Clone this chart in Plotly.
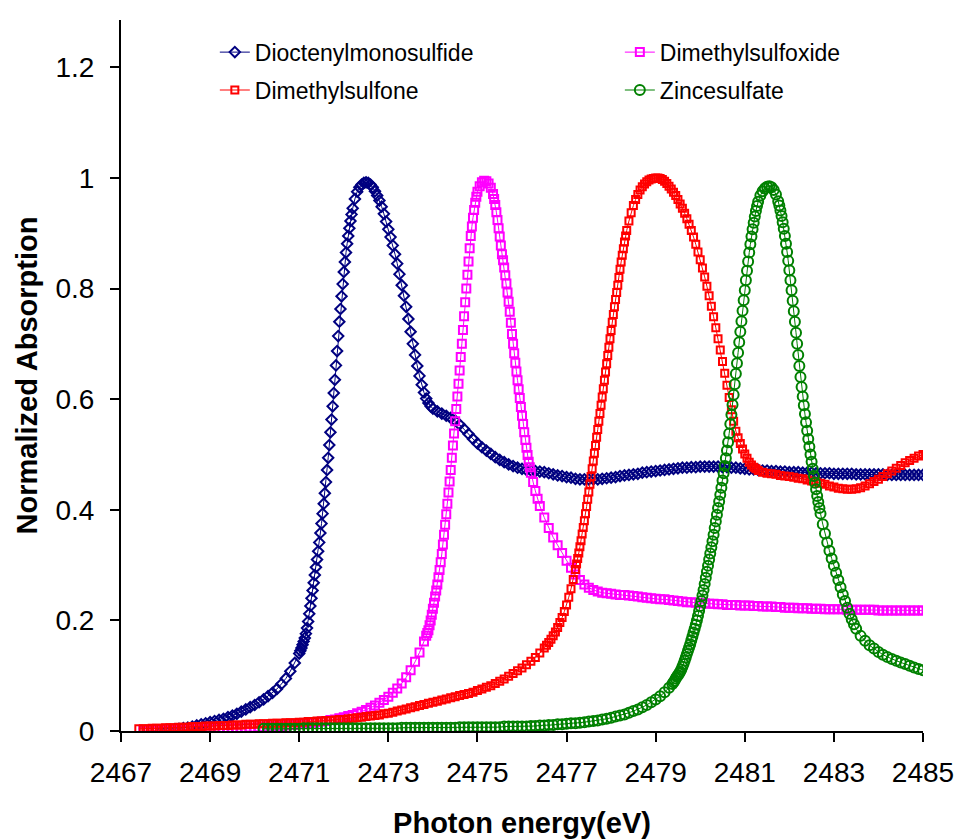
import plotly.graph_objects as go

# Sulfur K-edge XANES spectra: (photon energy in eV, normalized absorption)
DIOCTENYLMONOSULFIDE = [
    (2467.9, 0.000), (2468.0, 0.001), (2468.1, 0.002), (2468.2, 0.003), (2468.3, 0.004),
    (2468.4, 0.005), (2468.5, 0.006), (2468.6, 0.008), (2468.7, 0.010), (2468.8, 0.012),
    (2468.9, 0.014), (2469.0, 0.016), (2469.1, 0.018), (2469.2, 0.020), (2469.3, 0.022),
    (2469.4, 0.025), (2469.5, 0.028), (2469.6, 0.031), (2469.7, 0.035), (2469.8, 0.039),
    (2469.9, 0.043), (2470.0, 0.047), (2470.1, 0.052), (2470.2, 0.057), (2470.3, 0.063),
    (2470.4, 0.069), (2470.5, 0.076), (2470.6, 0.085), (2470.7, 0.095), (2470.8, 0.108),
    (2470.9, 0.123),
    (2471.000, 0.140), (2471.025, 0.145), (2471.050, 0.150), (2471.075, 0.156),
    (2471.100, 0.162), (2471.125, 0.168), (2471.150, 0.176), (2471.175, 0.186),
    (2471.200, 0.198), (2471.225, 0.212), (2471.250, 0.226), (2471.275, 0.240),
    (2471.300, 0.254), (2471.325, 0.268), (2471.350, 0.282), (2471.375, 0.296),
    (2471.400, 0.310), (2471.425, 0.325), (2471.450, 0.341), (2471.475, 0.358),
    (2471.500, 0.375), (2471.525, 0.393), (2471.550, 0.411), (2471.575, 0.430),
    (2471.600, 0.450), (2471.625, 0.472), (2471.650, 0.494), (2471.675, 0.517),
    (2471.700, 0.540), (2471.725, 0.563), (2471.750, 0.587), (2471.775, 0.611),
    (2471.800, 0.635), (2471.825, 0.661), (2471.850, 0.687), (2471.875, 0.714),
    (2471.900, 0.740), (2471.925, 0.763), (2471.950, 0.786), (2471.975, 0.808),
    (2472.000, 0.830), (2472.025, 0.848), (2472.050, 0.865), (2472.075, 0.881),
    (2472.100, 0.895), (2472.125, 0.909), (2472.150, 0.922), (2472.175, 0.934),
    (2472.200, 0.945),
    (2472.25, 0.962), (2472.30, 0.975), (2472.35, 0.983), (2472.40, 0.988), (2472.45, 0.991),
    (2472.50, 0.992), (2472.55, 0.991), (2472.60, 0.988), (2472.65, 0.983), (2472.70, 0.976),
    (2472.75, 0.968), (2472.80, 0.959), (2472.85, 0.948), (2472.90, 0.935), (2472.95, 0.921),
    (2473.00, 0.907), (2473.05, 0.893), (2473.10, 0.878), (2473.15, 0.862), (2473.20, 0.845),
    (2473.25, 0.826), (2473.30, 0.806), (2473.35, 0.787), (2473.40, 0.767), (2473.45, 0.745),
    (2473.50, 0.722), (2473.55, 0.700), (2473.60, 0.680), (2473.65, 0.660), (2473.70, 0.642),
    (2473.75, 0.626), (2473.80, 0.612), (2473.85, 0.601), (2473.90, 0.593), (2473.95, 0.587),
    (2474.00, 0.583),
    (2474.1, 0.578), (2474.2, 0.574), (2474.3, 0.570), (2474.4, 0.566), (2474.5, 0.561),
    (2474.6, 0.554), (2474.7, 0.546), (2474.8, 0.537), (2474.9, 0.528), (2475.0, 0.520),
    (2475.1, 0.513), (2475.2, 0.507), (2475.3, 0.501), (2475.4, 0.495), (2475.5, 0.490),
    (2475.6, 0.486), (2475.7, 0.482), (2475.8, 0.479), (2475.9, 0.476), (2476.0, 0.474),
    (2476.1, 0.472), (2476.2, 0.471), (2476.3, 0.470), (2476.4, 0.469), (2476.5, 0.468),
    (2476.6, 0.466), (2476.7, 0.464), (2476.8, 0.462), (2476.9, 0.461), (2477.0, 0.459),
    (2477.1, 0.458), (2477.2, 0.456), (2477.3, 0.455), (2477.4, 0.455), (2477.5, 0.455),
    (2477.6, 0.455), (2477.7, 0.455), (2477.8, 0.456), (2477.9, 0.457), (2478.0, 0.458),
    (2478.1, 0.459), (2478.2, 0.461), (2478.3, 0.462), (2478.4, 0.463), (2478.5, 0.464),
    (2478.6, 0.465), (2478.7, 0.467), (2478.8, 0.468), (2478.9, 0.469), (2479.0, 0.470),
    (2479.1, 0.471), (2479.2, 0.472), (2479.3, 0.473), (2479.4, 0.474), (2479.5, 0.475),
    (2479.6, 0.476), (2479.7, 0.476), (2479.8, 0.477), (2479.9, 0.477), (2480.0, 0.478),
    (2480.1, 0.478), (2480.2, 0.478), (2480.3, 0.478), (2480.4, 0.478), (2480.5, 0.477),
    (2480.6, 0.477), (2480.7, 0.476), (2480.8, 0.476), (2480.9, 0.475), (2481.0, 0.474),
    (2481.1, 0.473), (2481.2, 0.473), (2481.3, 0.472), (2481.4, 0.471), (2481.5, 0.471),
    (2481.6, 0.470), (2481.7, 0.470), (2481.8, 0.469), (2481.9, 0.469), (2482.0, 0.468),
    (2482.1, 0.468), (2482.2, 0.468), (2482.3, 0.467), (2482.4, 0.467), (2482.5, 0.467),
    (2482.6, 0.466), (2482.7, 0.466), (2482.8, 0.466), (2482.9, 0.466), (2483.0, 0.465),
    (2483.1, 0.465), (2483.2, 0.465), (2483.3, 0.465), (2483.4, 0.465), (2483.5, 0.464),
    (2483.6, 0.464), (2483.7, 0.464), (2483.8, 0.464), (2483.9, 0.464), (2484.0, 0.464),
    (2484.1, 0.464), (2484.2, 0.463), (2484.3, 0.463), (2484.4, 0.463), (2484.5, 0.463),
    (2484.6, 0.463), (2484.7, 0.463), (2484.8, 0.463), (2484.9, 0.463), (2485.0, 0.463),
]

DIMETHYLSULFOXIDE = [
    (2467.5, 0.000), (2467.6, 0.000), (2467.7, 0.001), (2467.8, 0.001), (2467.9, 0.001),
    (2468.0, 0.001), (2468.1, 0.002), (2468.2, 0.002), (2468.3, 0.002), (2468.4, 0.002),
    (2468.5, 0.002), (2468.6, 0.003), (2468.7, 0.003), (2468.8, 0.003), (2468.9, 0.003),
    (2469.0, 0.003), (2469.1, 0.004), (2469.2, 0.004), (2469.3, 0.004), (2469.4, 0.004),
    (2469.5, 0.005), (2469.6, 0.005), (2469.7, 0.005), (2469.8, 0.006), (2469.9, 0.006),
    (2470.0, 0.006), (2470.1, 0.007), (2470.2, 0.007), (2470.3, 0.008), (2470.4, 0.008),
    (2470.5, 0.009), (2470.6, 0.009), (2470.7, 0.010), (2470.8, 0.011), (2470.9, 0.011),
    (2471.0, 0.012), (2471.1, 0.013), (2471.2, 0.014), (2471.3, 0.015), (2471.4, 0.016),
    (2471.5, 0.017), (2471.6, 0.018), (2471.7, 0.020), (2471.8, 0.021), (2471.9, 0.023),
    (2472.0, 0.025), (2472.1, 0.027), (2472.2, 0.029), (2472.3, 0.032), (2472.4, 0.035),
    (2472.5, 0.038), (2472.6, 0.042), (2472.7, 0.046), (2472.8, 0.051), (2472.9, 0.056),
    (2473.0, 0.062), (2473.1, 0.069), (2473.2, 0.077), (2473.3, 0.086), (2473.4, 0.097),
    (2473.5, 0.110), (2473.6, 0.125), (2473.7, 0.142), (2473.8, 0.162),
    (2473.850, 0.172), (2473.875, 0.177), (2473.900, 0.182), (2473.925, 0.191),
    (2473.950, 0.200), (2473.975, 0.210), (2474.000, 0.221), (2474.025, 0.232),
    (2474.050, 0.243), (2474.075, 0.254), (2474.100, 0.265), (2474.125, 0.278),
    (2474.150, 0.291), (2474.175, 0.305), (2474.200, 0.320), (2474.225, 0.337),
    (2474.250, 0.355), (2474.275, 0.373), (2474.300, 0.392), (2474.325, 0.411),
    (2474.350, 0.431), (2474.375, 0.451), (2474.400, 0.472), (2474.425, 0.494),
    (2474.450, 0.516), (2474.475, 0.538), (2474.500, 0.560), (2474.525, 0.582),
    (2474.550, 0.605), (2474.575, 0.628), (2474.600, 0.652), (2474.625, 0.676),
    (2474.650, 0.700), (2474.675, 0.725), (2474.700, 0.750), (2474.725, 0.775),
    (2474.750, 0.800), (2474.775, 0.825), (2474.800, 0.849), (2474.825, 0.873),
    (2474.850, 0.895), (2474.875, 0.912), (2474.900, 0.928), (2474.925, 0.942),
    (2474.950, 0.955), (2474.975, 0.966), (2475.000, 0.975),
    (2475.05, 0.985), (2475.10, 0.992), (2475.15, 0.995), (2475.20, 0.994), (2475.25, 0.990),
    (2475.30, 0.982), (2475.35, 0.971),
    (2475.375, 0.962), (2475.400, 0.951), (2475.425, 0.938), (2475.450, 0.924),
    (2475.475, 0.909), (2475.500, 0.894), (2475.525, 0.878), (2475.550, 0.862),
    (2475.575, 0.851), (2475.600, 0.838), (2475.625, 0.824), (2475.650, 0.809),
    (2475.675, 0.793), (2475.700, 0.776), (2475.725, 0.758), (2475.750, 0.738),
    (2475.775, 0.718), (2475.800, 0.700), (2475.825, 0.683), (2475.850, 0.666),
    (2475.875, 0.650), (2475.900, 0.634), (2475.925, 0.618), (2475.950, 0.602),
    (2475.975, 0.586), (2476.000, 0.570), (2476.025, 0.555), (2476.050, 0.540),
    (2476.075, 0.526), (2476.100, 0.512), (2476.125, 0.499), (2476.150, 0.487),
    (2476.175, 0.477), (2476.200, 0.467),
    (2476.25, 0.450), (2476.30, 0.434), (2476.35, 0.420), (2476.40, 0.407),
    (2476.5, 0.386), (2476.6, 0.367), (2476.7, 0.350), (2476.8, 0.336), (2476.9, 0.322),
    (2477.0, 0.308), (2477.1, 0.295), (2477.2, 0.283), (2477.3, 0.273), (2477.4, 0.265),
    (2477.5, 0.259), (2477.6, 0.255), (2477.7, 0.252), (2477.8, 0.250), (2477.9, 0.249),
    (2478.0, 0.248), (2478.1, 0.247), (2478.2, 0.246), (2478.3, 0.246), (2478.4, 0.245),
    (2478.5, 0.244), (2478.6, 0.243), (2478.7, 0.242), (2478.8, 0.241), (2478.9, 0.240),
    (2479.0, 0.239), (2479.1, 0.238), (2479.2, 0.238), (2479.3, 0.237), (2479.4, 0.236),
    (2479.5, 0.235), (2479.6, 0.234), (2479.7, 0.233), (2479.8, 0.233), (2479.9, 0.232),
    (2480.0, 0.231), (2480.1, 0.231), (2480.2, 0.230), (2480.3, 0.230), (2480.4, 0.229),
    (2480.5, 0.229), (2480.6, 0.228), (2480.7, 0.228), (2480.8, 0.228), (2480.9, 0.227),
    (2481.0, 0.227), (2481.1, 0.227), (2481.2, 0.226), (2481.3, 0.226), (2481.4, 0.225),
    (2481.5, 0.225), (2481.6, 0.225), (2481.7, 0.224), (2481.8, 0.224), (2481.9, 0.223),
    (2482.0, 0.223), (2482.1, 0.223), (2482.2, 0.222), (2482.3, 0.222), (2482.4, 0.222),
    (2482.5, 0.221), (2482.6, 0.221), (2482.7, 0.221), (2482.8, 0.220), (2482.9, 0.220),
    (2483.0, 0.220), (2483.1, 0.220), (2483.2, 0.220), (2483.3, 0.219), (2483.4, 0.219),
    (2483.5, 0.219), (2483.6, 0.219), (2483.7, 0.219), (2483.8, 0.219), (2483.9, 0.219),
    (2484.0, 0.218), (2484.1, 0.218), (2484.2, 0.218), (2484.3, 0.218), (2484.4, 0.218),
    (2484.5, 0.218), (2484.6, 0.218), (2484.7, 0.218), (2484.8, 0.218), (2484.9, 0.218),
    (2485.0, 0.218),
]

DIMETHYLSULFONE = [
    (2467.4, 0.004), (2467.5, 0.004), (2467.6, 0.004), (2467.7, 0.005), (2467.8, 0.005),
    (2467.9, 0.005), (2468.0, 0.006), (2468.1, 0.006), (2468.2, 0.006), (2468.3, 0.007),
    (2468.4, 0.007), (2468.5, 0.007), (2468.6, 0.008), (2468.7, 0.008), (2468.8, 0.008),
    (2468.9, 0.009), (2469.0, 0.009), (2469.1, 0.009), (2469.2, 0.010), (2469.3, 0.010),
    (2469.4, 0.010), (2469.5, 0.011), (2469.6, 0.011), (2469.7, 0.011), (2469.8, 0.012),
    (2469.9, 0.012), (2470.0, 0.012), (2470.1, 0.013), (2470.2, 0.013), (2470.3, 0.013),
    (2470.4, 0.014), (2470.5, 0.014), (2470.6, 0.014), (2470.7, 0.015), (2470.8, 0.015),
    (2470.9, 0.015), (2471.0, 0.016), (2471.1, 0.016), (2471.2, 0.017), (2471.3, 0.017),
    (2471.4, 0.018), (2471.5, 0.018), (2471.6, 0.019), (2471.7, 0.019), (2471.8, 0.020),
    (2471.9, 0.021), (2472.0, 0.021), (2472.1, 0.022), (2472.2, 0.023), (2472.3, 0.024),
    (2472.4, 0.025), (2472.5, 0.026), (2472.6, 0.027), (2472.7, 0.028), (2472.8, 0.029),
    (2472.9, 0.031), (2473.0, 0.032), (2473.1, 0.034), (2473.2, 0.036), (2473.3, 0.038),
    (2473.4, 0.040), (2473.5, 0.042), (2473.6, 0.044), (2473.7, 0.046), (2473.8, 0.048),
    (2473.9, 0.050), (2474.0, 0.052), (2474.1, 0.054), (2474.2, 0.056), (2474.3, 0.058),
    (2474.4, 0.060), (2474.5, 0.062), (2474.6, 0.064), (2474.7, 0.066), (2474.8, 0.068),
    (2474.9, 0.070), (2475.0, 0.073), (2475.1, 0.076), (2475.2, 0.079), (2475.3, 0.082),
    (2475.4, 0.086), (2475.5, 0.090), (2475.6, 0.094), (2475.7, 0.099), (2475.8, 0.104),
    (2475.9, 0.109), (2476.0, 0.114), (2476.1, 0.120), (2476.2, 0.126), (2476.3, 0.133),
    (2476.4, 0.141), (2476.5, 0.150),
    (2476.55, 0.155), (2476.60, 0.160), (2476.65, 0.166), (2476.70, 0.172), (2476.75, 0.179),
    (2476.80, 0.187), (2476.85, 0.196), (2476.90, 0.205), (2476.95, 0.216), (2477.00, 0.228),
    (2477.05, 0.242), (2477.10, 0.257), (2477.15, 0.274), (2477.20, 0.292),
    (2477.225, 0.302), (2477.250, 0.312), (2477.275, 0.322), (2477.300, 0.333),
    (2477.325, 0.344), (2477.350, 0.356), (2477.375, 0.368), (2477.400, 0.380),
    (2477.425, 0.393), (2477.450, 0.406), (2477.475, 0.419), (2477.500, 0.432),
    (2477.525, 0.446), (2477.550, 0.460), (2477.575, 0.474), (2477.600, 0.488),
    (2477.625, 0.502), (2477.650, 0.516), (2477.675, 0.531), (2477.700, 0.545),
    (2477.725, 0.560), (2477.750, 0.574), (2477.775, 0.589), (2477.800, 0.604),
    (2477.825, 0.619), (2477.850, 0.634), (2477.875, 0.649), (2477.900, 0.664),
    (2477.925, 0.679), (2477.950, 0.694), (2477.975, 0.709), (2478.000, 0.724),
    (2478.025, 0.739), (2478.050, 0.753), (2478.075, 0.767), (2478.100, 0.780),
    (2478.125, 0.793), (2478.150, 0.806), (2478.175, 0.820), (2478.200, 0.835),
    (2478.225, 0.848), (2478.250, 0.860), (2478.275, 0.872), (2478.300, 0.884),
    (2478.325, 0.895),
    (2478.35, 0.905), (2478.40, 0.922), (2478.45, 0.937), (2478.50, 0.950), (2478.55, 0.961),
    (2478.60, 0.970), (2478.65, 0.978), (2478.70, 0.984), (2478.75, 0.989), (2478.80, 0.993),
    (2478.85, 0.996), (2478.90, 0.998), (2478.95, 0.999), (2479.00, 1.000), (2479.05, 1.000),
    (2479.10, 0.999), (2479.15, 0.997), (2479.20, 0.994), (2479.25, 0.990), (2479.30, 0.985),
    (2479.35, 0.980), (2479.40, 0.974), (2479.45, 0.968), (2479.50, 0.961), (2479.55, 0.953),
    (2479.60, 0.945), (2479.65, 0.936), (2479.70, 0.926), (2479.75, 0.916), (2479.80, 0.905),
    (2479.85, 0.893), (2479.90, 0.880), (2479.95, 0.866), (2480.00, 0.852), (2480.05, 0.837),
    (2480.10, 0.821), (2480.15, 0.804), (2480.20, 0.787), (2480.25, 0.768), (2480.30, 0.749),
    (2480.35, 0.729), (2480.40, 0.709), (2480.45, 0.689), (2480.50, 0.668), (2480.55, 0.647),
    (2480.60, 0.625), (2480.65, 0.603), (2480.70, 0.581), (2480.75, 0.560), (2480.80, 0.542),
    (2480.85, 0.530), (2480.90, 0.520), (2480.95, 0.510), (2481.00, 0.501), (2481.05, 0.493),
    (2481.10, 0.486), (2481.15, 0.481), (2481.20, 0.477), (2481.25, 0.474), (2481.30, 0.471),
    (2481.4, 0.468), (2481.5, 0.466), (2481.6, 0.465), (2481.7, 0.464), (2481.8, 0.462),
    (2481.9, 0.461), (2482.0, 0.460), (2482.1, 0.459), (2482.2, 0.457), (2482.3, 0.456),
    (2482.4, 0.454), (2482.5, 0.452), (2482.6, 0.450), (2482.7, 0.448), (2482.8, 0.446),
    (2482.9, 0.443), (2483.0, 0.441), (2483.1, 0.439), (2483.2, 0.438), (2483.3, 0.437),
    (2483.4, 0.437), (2483.5, 0.438), (2483.6, 0.440), (2483.7, 0.443), (2483.8, 0.447),
    (2483.9, 0.451), (2484.0, 0.455), (2484.1, 0.460), (2484.2, 0.465), (2484.3, 0.470),
    (2484.4, 0.475), (2484.5, 0.480), (2484.6, 0.485), (2484.7, 0.489), (2484.8, 0.493),
    (2484.9, 0.497), (2485.0, 0.500),
]

ZINCESULFATE = [
    (2470.2, 0.004), (2470.3, 0.004), (2470.4, 0.004), (2470.5, 0.004), (2470.6, 0.004),
    (2470.7, 0.004), (2470.8, 0.004), (2470.9, 0.004), (2471.0, 0.004), (2471.1, 0.005),
    (2471.2, 0.005), (2471.3, 0.005), (2471.4, 0.005), (2471.5, 0.005), (2471.6, 0.005),
    (2471.7, 0.005), (2471.8, 0.005), (2471.9, 0.005), (2472.0, 0.005), (2472.1, 0.005),
    (2472.2, 0.005), (2472.3, 0.005), (2472.4, 0.005), (2472.5, 0.005), (2472.6, 0.005),
    (2472.7, 0.005), (2472.8, 0.005), (2472.9, 0.005), (2473.0, 0.005), (2473.1, 0.005),
    (2473.2, 0.005), (2473.3, 0.006), (2473.4, 0.006), (2473.5, 0.006), (2473.6, 0.006),
    (2473.7, 0.006), (2473.8, 0.006), (2473.9, 0.006), (2474.0, 0.006), (2474.1, 0.006),
    (2474.2, 0.006), (2474.3, 0.006), (2474.4, 0.006), (2474.5, 0.006), (2474.6, 0.007),
    (2474.7, 0.007), (2474.8, 0.007), (2474.9, 0.007), (2475.0, 0.007), (2475.1, 0.007),
    (2475.2, 0.007), (2475.3, 0.007), (2475.4, 0.007), (2475.5, 0.007), (2475.6, 0.008),
    (2475.7, 0.008), (2475.8, 0.008), (2475.9, 0.008), (2476.0, 0.008), (2476.1, 0.008),
    (2476.2, 0.009), (2476.3, 0.009), (2476.4, 0.010), (2476.5, 0.010), (2476.6, 0.011),
    (2476.7, 0.011), (2476.8, 0.012), (2476.9, 0.012), (2477.0, 0.013), (2477.1, 0.014),
    (2477.2, 0.014), (2477.3, 0.015), (2477.4, 0.016), (2477.5, 0.017), (2477.6, 0.018),
    (2477.7, 0.019), (2477.8, 0.021), (2477.9, 0.022), (2478.0, 0.024), (2478.1, 0.026),
    (2478.2, 0.028), (2478.3, 0.030), (2478.4, 0.033), (2478.5, 0.036), (2478.6, 0.039),
    (2478.7, 0.043), (2478.8, 0.047), (2478.9, 0.052), (2479.0, 0.057), (2479.1, 0.063),
    (2479.2, 0.070), (2479.3, 0.078), (2479.375, 0.085),
    (2479.400, 0.088), (2479.425, 0.091), (2479.450, 0.095), (2479.475, 0.098),
    (2479.500, 0.101), (2479.525, 0.104), (2479.550, 0.107), (2479.575, 0.111),
    (2479.600, 0.116), (2479.625, 0.121), (2479.650, 0.127), (2479.675, 0.133),
    (2479.700, 0.139), (2479.725, 0.145), (2479.750, 0.151), (2479.775, 0.157),
    (2479.800, 0.164), (2479.825, 0.171), (2479.850, 0.178), (2479.875, 0.185),
    (2479.900, 0.192), (2479.925, 0.200), (2479.950, 0.208), (2479.975, 0.217),
    (2480.000, 0.226), (2480.025, 0.235), (2480.050, 0.245), (2480.075, 0.255),
    (2480.100, 0.266), (2480.125, 0.277), (2480.150, 0.288), (2480.175, 0.299),
    (2480.200, 0.310), (2480.225, 0.321), (2480.250, 0.332), (2480.275, 0.343),
    (2480.300, 0.355), (2480.325, 0.367), (2480.350, 0.379), (2480.375, 0.391),
    (2480.400, 0.403), (2480.425, 0.415), (2480.450, 0.427), (2480.475, 0.440),
    (2480.500, 0.453), (2480.525, 0.466), (2480.550, 0.479), (2480.575, 0.493),
    (2480.600, 0.507), (2480.625, 0.522), (2480.650, 0.538), (2480.675, 0.555),
    (2480.700, 0.572), (2480.725, 0.590), (2480.750, 0.608), (2480.775, 0.627),
    (2480.800, 0.646), (2480.825, 0.665), (2480.850, 0.684), (2480.875, 0.703),
    (2480.900, 0.722), (2480.925, 0.741), (2480.950, 0.760), (2480.975, 0.779),
    (2481.000, 0.797), (2481.025, 0.815), (2481.050, 0.832), (2481.075, 0.849),
    (2481.100, 0.865), (2481.125, 0.880), (2481.150, 0.894), (2481.175, 0.907),
    (2481.200, 0.919), (2481.225, 0.930), (2481.250, 0.940), (2481.275, 0.949),
    (2481.300, 0.957),
    (2481.35, 0.968), (2481.40, 0.976), (2481.45, 0.981), (2481.50, 0.984), (2481.55, 0.985),
    (2481.60, 0.983), (2481.65, 0.978), (2481.70, 0.970), (2481.75, 0.958),
    (2481.775, 0.950), (2481.800, 0.941), (2481.825, 0.931), (2481.850, 0.920),
    (2481.875, 0.908), (2481.900, 0.895), (2481.925, 0.881), (2481.950, 0.866),
    (2481.975, 0.850), (2482.000, 0.833), (2482.025, 0.815), (2482.050, 0.797),
    (2482.075, 0.778), (2482.100, 0.759), (2482.125, 0.740), (2482.150, 0.720),
    (2482.175, 0.700), (2482.200, 0.680), (2482.225, 0.660), (2482.250, 0.640),
    (2482.275, 0.622), (2482.300, 0.605), (2482.325, 0.589), (2482.350, 0.573),
    (2482.375, 0.558), (2482.400, 0.543), (2482.425, 0.528), (2482.450, 0.514),
    (2482.475, 0.500), (2482.500, 0.487), (2482.525, 0.474), (2482.550, 0.461),
    (2482.575, 0.449), (2482.600, 0.437), (2482.625, 0.425), (2482.650, 0.414),
    (2482.675, 0.403), (2482.700, 0.393),
    (2482.75, 0.374), (2482.80, 0.357), (2482.85, 0.341), (2482.90, 0.326), (2482.95, 0.312),
    (2483.00, 0.299), (2483.05, 0.286), (2483.10, 0.273), (2483.15, 0.260), (2483.20, 0.247),
    (2483.25, 0.235), (2483.30, 0.223), (2483.35, 0.212), (2483.40, 0.202), (2483.45, 0.193),
    (2483.50, 0.185),
    (2483.6, 0.172), (2483.7, 0.163), (2483.8, 0.155), (2483.9, 0.149), (2484.0, 0.143),
    (2484.1, 0.138), (2484.2, 0.134), (2484.3, 0.130), (2484.4, 0.127), (2484.5, 0.124),
    (2484.6, 0.121), (2484.7, 0.118), (2484.8, 0.115), (2484.9, 0.112), (2485.0, 0.110),
]

X_TICKS = [2467, 2469, 2471, 2473, 2475, 2477, 2479, 2481, 2483, 2485]
Y_TICKS = [0, 0.2, 0.4, 0.6, 0.8, 1.0, 1.2]
Y_TICK_TEXT = ["0", "0.2", "0.4", "0.6", "0.8", "1", "1.2"]

FONT = "Liberation Sans, Arial, sans-serif"

# name, points, colour, marker symbol, marker size, legend column
SERIES = [
    ("Dioctenylmonosulfide", DIOCTENYLMONOSULFIDE, "#000080", "diamond-open", 8, "legend"),
    ("Dimethylsulfoxide", DIMETHYLSULFOXIDE, "#FF00FF", "square-open", 8, "legend2"),
    ("Dimethylsulfone", DIMETHYLSULFONE, "#FF0000", "square-open", 7, "legend"),
    ("Zincesulfate", ZINCESULFATE, "#008000", "circle-open", 10, "legend2"),
]

fig = go.Figure()
for name, pts, color, symbol, size, legend in SERIES:
    fig.add_trace(go.Scatter(
        x=[p[0] for p in pts],
        y=[p[1] for p in pts],
        mode="lines+markers",
        name=name,
        legend=legend,
        legendgroup=name,
        line=dict(color=color, width=1),
        marker=dict(symbol=symbol, size=size, color=color,
                    line=dict(color=color, width=2)),
    ))

axis_common = dict(
    showgrid=False, zeroline=False, showline=True, automargin=False,
    linecolor="black", linewidth=2,
    ticks="outside", ticklen=9, tickwidth=2, tickcolor="black",
    tickfont=dict(family=FONT, size=28, color="black"),
)

legend_common = dict(
    font=dict(family=FONT, size=23, color="black"),
    bgcolor="rgba(0,0,0,0)", borderwidth=0,
    xanchor="left", yanchor="top",
    tracegroupgap=5,
)

fig.update_layout(
    width=960, height=839,
    margin=dict(l=121, r=37, t=20, b=108, autoexpand=False),
    paper_bgcolor="white", plot_bgcolor="white",
    xaxis=dict(
        range=[2467, 2485], tickvals=X_TICKS, ticklabelstandoff=6, **axis_common,
        title=dict(text="<b>Photon energy(eV)</b>", standoff=26,
                   font=dict(family=FONT, size=29, color="black")),
    ),
    yaxis=dict(
        range=[0, 1.2855], tickvals=Y_TICKS, ticktext=Y_TICK_TEXT,
        ticklabelstandoff=10, **axis_common,
        title=dict(text="<b>Normalized Absorption</b>", standoff=9,
                   font=dict(family=FONT, size=29, color="black")),
    ),
    legend=dict(x=0.117, y=0.985, **legend_common),
    legend2=dict(x=0.622, y=0.985, **legend_common),
    showlegend=True,
)

fig.write_html("out.html")
